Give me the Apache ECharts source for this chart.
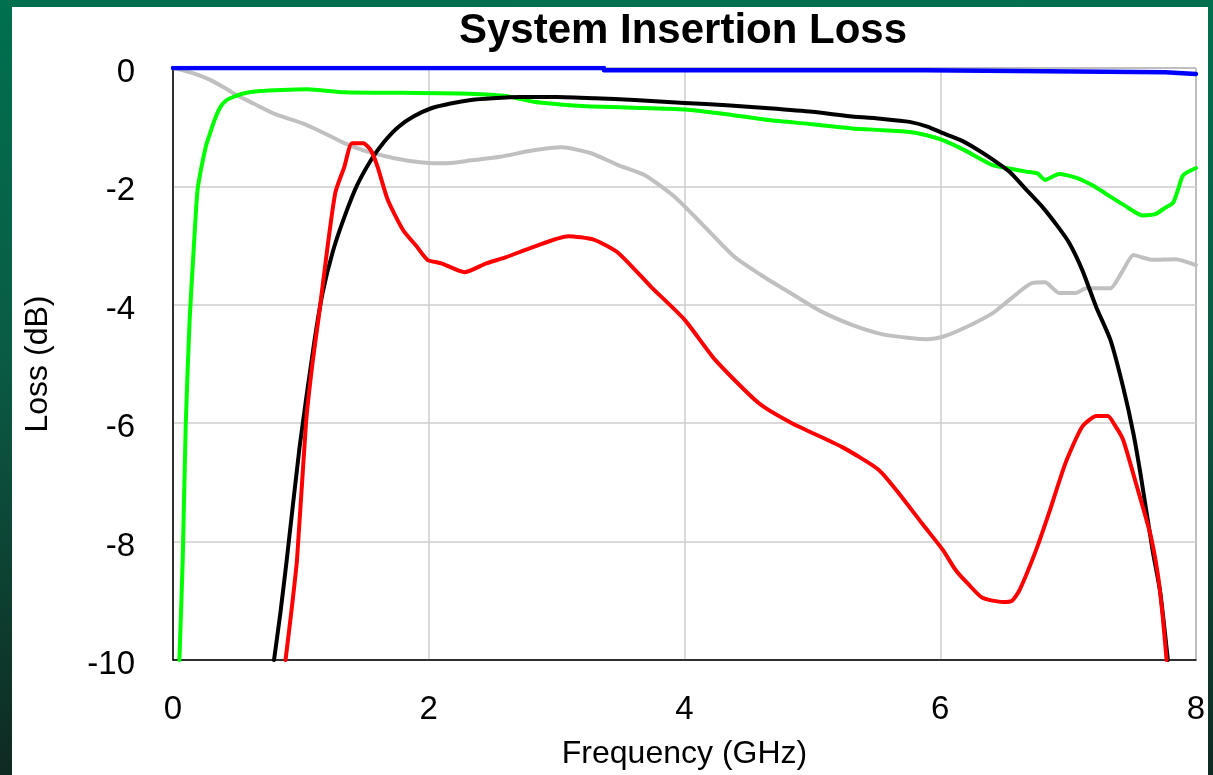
<!DOCTYPE html>
<html>
<head>
<meta charset="utf-8">
<title>System Insertion Loss</title>
<script src="https://cdn.jsdelivr.net/npm/echarts@6/dist/echarts.min.js"></script>
<style>
  html, body {
    margin: 0;
    padding: 0;
    width: 1213px;
    height: 775px;
    overflow: hidden;
  }
  body {
    background: linear-gradient(to bottom, #00704f 0%, #0a5c45 45%, #0f2a22 100%);
    position: relative;
  }
  #panel {
    position: absolute;
    left: 12px;
    top: 7px;
    width: 1196px;
    height: 780px;
    background-color: #fff;
  }
  #chart {
    position: absolute;
    left: 0;
    top: 0;
    width: 1213px;
    height: 775px;
  }
</style>
</head>
<body>
<div id="panel"></div>
<div id="chart"></div>
<script>
// values (GHz / dB)
var xTicks = [0, 2, 4, 6, 8];
var yTicks = [-10, -8, -6, -4, -2, 0];

var blueFreq = [0, 3.37, 3.37, 5.88, 5.88, 7.76, 7.76, 8];
var blueLoss = [0, 0, -0.04, -0.04, -0.07, -0.07, -0.1, -0.1];

var grayFreq = [0, 0.1, 0.2, 0.29, 0.4, 0.5, 0.63, 0.8, 1.02, 1.2, 1.34, 1.5, 1.68, 1.85, 2.07, 2.2,
  2.33, 2.56, 2.82, 3.04, 3.27, 3.48, 3.69, 3.92, 4.13, 4.39, 4.6, 4.79, 5.05, 5.31, 5.55, 5.76,
  5.9, 6.02, 6.2, 6.41, 6.55, 6.72, 6.82, 6.93, 7.06, 7.14, 7.33, 7.42, 7.51, 7.58, 7.66, 7.84, 8.0];
var grayLoss = [0, -0.05, -0.12, -0.2, -0.33, -0.46, -0.6, -0.78, -0.94, -1.12, -1.27, -1.4, -1.5,
  -1.57, -1.61, -1.6, -1.56, -1.5, -1.39, -1.34, -1.44, -1.64, -1.81, -2.17, -2.62, -3.19, -3.5,
  -3.75, -4.09, -4.34, -4.5, -4.56, -4.58, -4.54, -4.38, -4.14, -3.9, -3.63, -3.62, -3.8, -3.8,
  -3.72, -3.72, -3.45, -3.16, -3.2, -3.24, -3.23, -3.33];

var greenFreq = [0.05, 0.076, 0.1, 0.13, 0.157, 0.19, 0.22, 0.26, 0.29, 0.33, 0.37, 0.42, 0.47,
  0.55, 0.68, 0.85, 1.05, 1.34, 1.8, 2.25, 2.59, 2.82, 3.05, 3.27, 3.6, 4.0, 4.33, 4.66, 5.0, 5.31,
  5.55, 5.76, 5.9, 6.02, 6.2, 6.41, 6.55, 6.67, 6.76, 6.82, 6.93, 7.06, 7.19, 7.3, 7.44, 7.58,
  7.68, 7.76, 7.82, 7.86, 7.9, 8.0];
var greenLoss = [-10, -8.3, -6.0, -4.26, -3.24, -2.1, -1.7, -1.3, -1.1, -0.85, -0.66, -0.54, -0.49,
  -0.43, -0.39, -0.37, -0.36, -0.41, -0.42, -0.43, -0.47, -0.57, -0.62, -0.65, -0.67, -0.7, -0.78,
  -0.88, -0.95, -1.02, -1.05, -1.08, -1.14, -1.22, -1.4, -1.64, -1.7, -1.75, -1.78, -1.89, -1.79,
  -1.85, -1.98, -2.13, -2.32, -2.49, -2.47, -2.36, -2.28, -2.05, -1.81, -1.69];

var blackFreq = [0.79, 0.84, 0.89, 0.99, 1.1, 1.17, 1.25, 1.34, 1.44, 1.55, 1.65, 1.76, 1.88, 2.02,
  2.17, 2.33, 2.5, 2.72, 3.0, 3.3, 3.61, 4.0, 4.33, 4.66, 5.0, 5.31, 5.55, 5.76, 5.9, 6.02, 6.15,
  6.27, 6.4, 6.54, 6.67, 6.8, 6.92, 7.01, 7.11, 7.22, 7.33, 7.43, 7.51, 7.57, 7.66, 7.72, 7.78];
var blackLoss = [-10, -9.2, -8.3, -6.4, -4.7, -3.8, -3.1, -2.52, -1.98, -1.55, -1.25, -1.0, -0.82,
  -0.68, -0.6, -0.54, -0.51, -0.49, -0.49, -0.51, -0.54, -0.59, -0.63, -0.68, -0.74, -0.82, -0.86,
  -0.91, -0.99, -1.1, -1.21, -1.35, -1.53, -1.75, -2.05, -2.35, -2.68, -2.96, -3.41, -4.04, -4.59,
  -5.39, -6.17, -6.91, -8.14, -8.85, -10];

var redFreq = [0.88, 0.93, 0.97, 1.04, 1.09, 1.14, 1.21, 1.27, 1.34, 1.4, 1.49, 1.55, 1.6, 1.68,
  1.8, 1.9, 1.99, 2.1, 2.28, 2.45, 2.6, 2.82, 3.09, 3.29, 3.48, 3.74, 4.0, 4.24, 4.58, 4.84, 5.23,
  5.52, 5.7, 5.86, 6.02, 6.12, 6.22, 6.33, 6.49, 6.56, 6.62, 6.75, 6.85, 6.98, 7.11, 7.22, 7.31,
  7.37, 7.43, 7.53, 7.64, 7.7, 7.74, 7.77];
var redLoss = [-10, -9.1, -8.3, -6.0, -5.0, -4.2, -3.0, -2.1, -1.67, -1.27, -1.27, -1.4, -1.67,
  -2.23, -2.74, -3.0, -3.24, -3.3, -3.45, -3.3, -3.2, -3.02, -2.84, -2.9, -3.12, -3.7, -4.25, -4.93,
  -5.66, -6.0, -6.4, -6.79, -7.25, -7.7, -8.14, -8.48, -8.72, -8.95, -9.02, -9.0, -8.82, -8.14,
  -7.52, -6.67, -6.06, -5.88, -5.88, -6.05, -6.28, -7.01, -7.85, -8.53, -9.27, -10];

function pairs(xs, ys) {
  var out = [];
  for (var i = 0; i < xs.length; i++) {
    out.push([xs[i], ys[i]]);
  }
  return out;
}

var font = "'Liberation Sans', Arial, sans-serif";

function line(name, color, width, xs, ys, smooth) {
  return {
    name: name,
    type: "line",
    data: pairs(xs, ys),
    showSymbol: false,
    smooth: smooth,
    lineStyle: { color: color, width: width, join: "round", cap: "round" },
    itemStyle: { color: color },
    animation: false,
  };
}

var myChart = echarts.init(document.getElementById("chart"));
var option = {
  backgroundColor: "transparent",
  title: {
    text: "System Insertion Loss",
    left: 678,
    top: 5,
    textAlign: "center",
    textStyle: { fontFamily: font, fontSize: 42, fontWeight: "bold", color: "#000" },
  },
  grid: {
    left: 173,
    top: 68,
    right: 17,
    bottom: 115,
    show: true,
    borderColor: "#333",
    borderWidth: 1,
  },
  xAxis: {
    type: "value",
    min: xTicks[0],
    max: xTicks[xTicks.length - 1],
    interval: 2,
    name: "Frequency (GHz)",
    nameLocation: "middle",
    nameGap: 78,
    nameTextStyle: { fontFamily: font, fontSize: 32, color: "#000" },
    axisLine: { show: true, onZero: false, lineStyle: { color: "#000", width: 1.5 } },
    axisTick: { show: false },
    axisLabel: { margin: 33, fontFamily: font, fontSize: 33, color: "#000" },
    splitLine: { show: true, lineStyle: { color: "#cccccc", width: 1.5 } },
  },
  yAxis: {
    type: "value",
    min: yTicks[0],
    max: yTicks[yTicks.length - 1],
    interval: 2,
    name: "Loss (dB)",
    nameLocation: "middle",
    nameGap: 119,
    nameTextStyle: { fontFamily: font, fontSize: 32, color: "#000" },
    axisLine: { show: true, onZero: false, lineStyle: { color: "#000", width: 1.5 } },
    axisTick: { show: false },
    axisLabel: {
      margin: 38,
      formatter: function(v) {
        return "{t|" + v + "}";
      },
      rich: {
        t: { fontFamily: font, fontSize: 33, color: "#000", padding: [10, 0, 0, 0] },
      },
    },
    splitLine: { show: true, lineStyle: { color: "#cccccc", width: 1.5 } },
  },
  series: [
    line("gray", "#c0c0c0", 4, grayFreq, grayLoss, 0.2),
    line("green", "#00ff00", 4, greenFreq, greenLoss, 0.2),
    line("black", "#000000", 4, blackFreq, blackLoss, 0.2),
    line("red", "#ff0000", 4, redFreq, redLoss, 0.2),
    line("blue", "#0000ff", 4.5, blueFreq, blueLoss, false),
  ],
};
myChart.setOption(option, true);
</script>
</body>
</html>
